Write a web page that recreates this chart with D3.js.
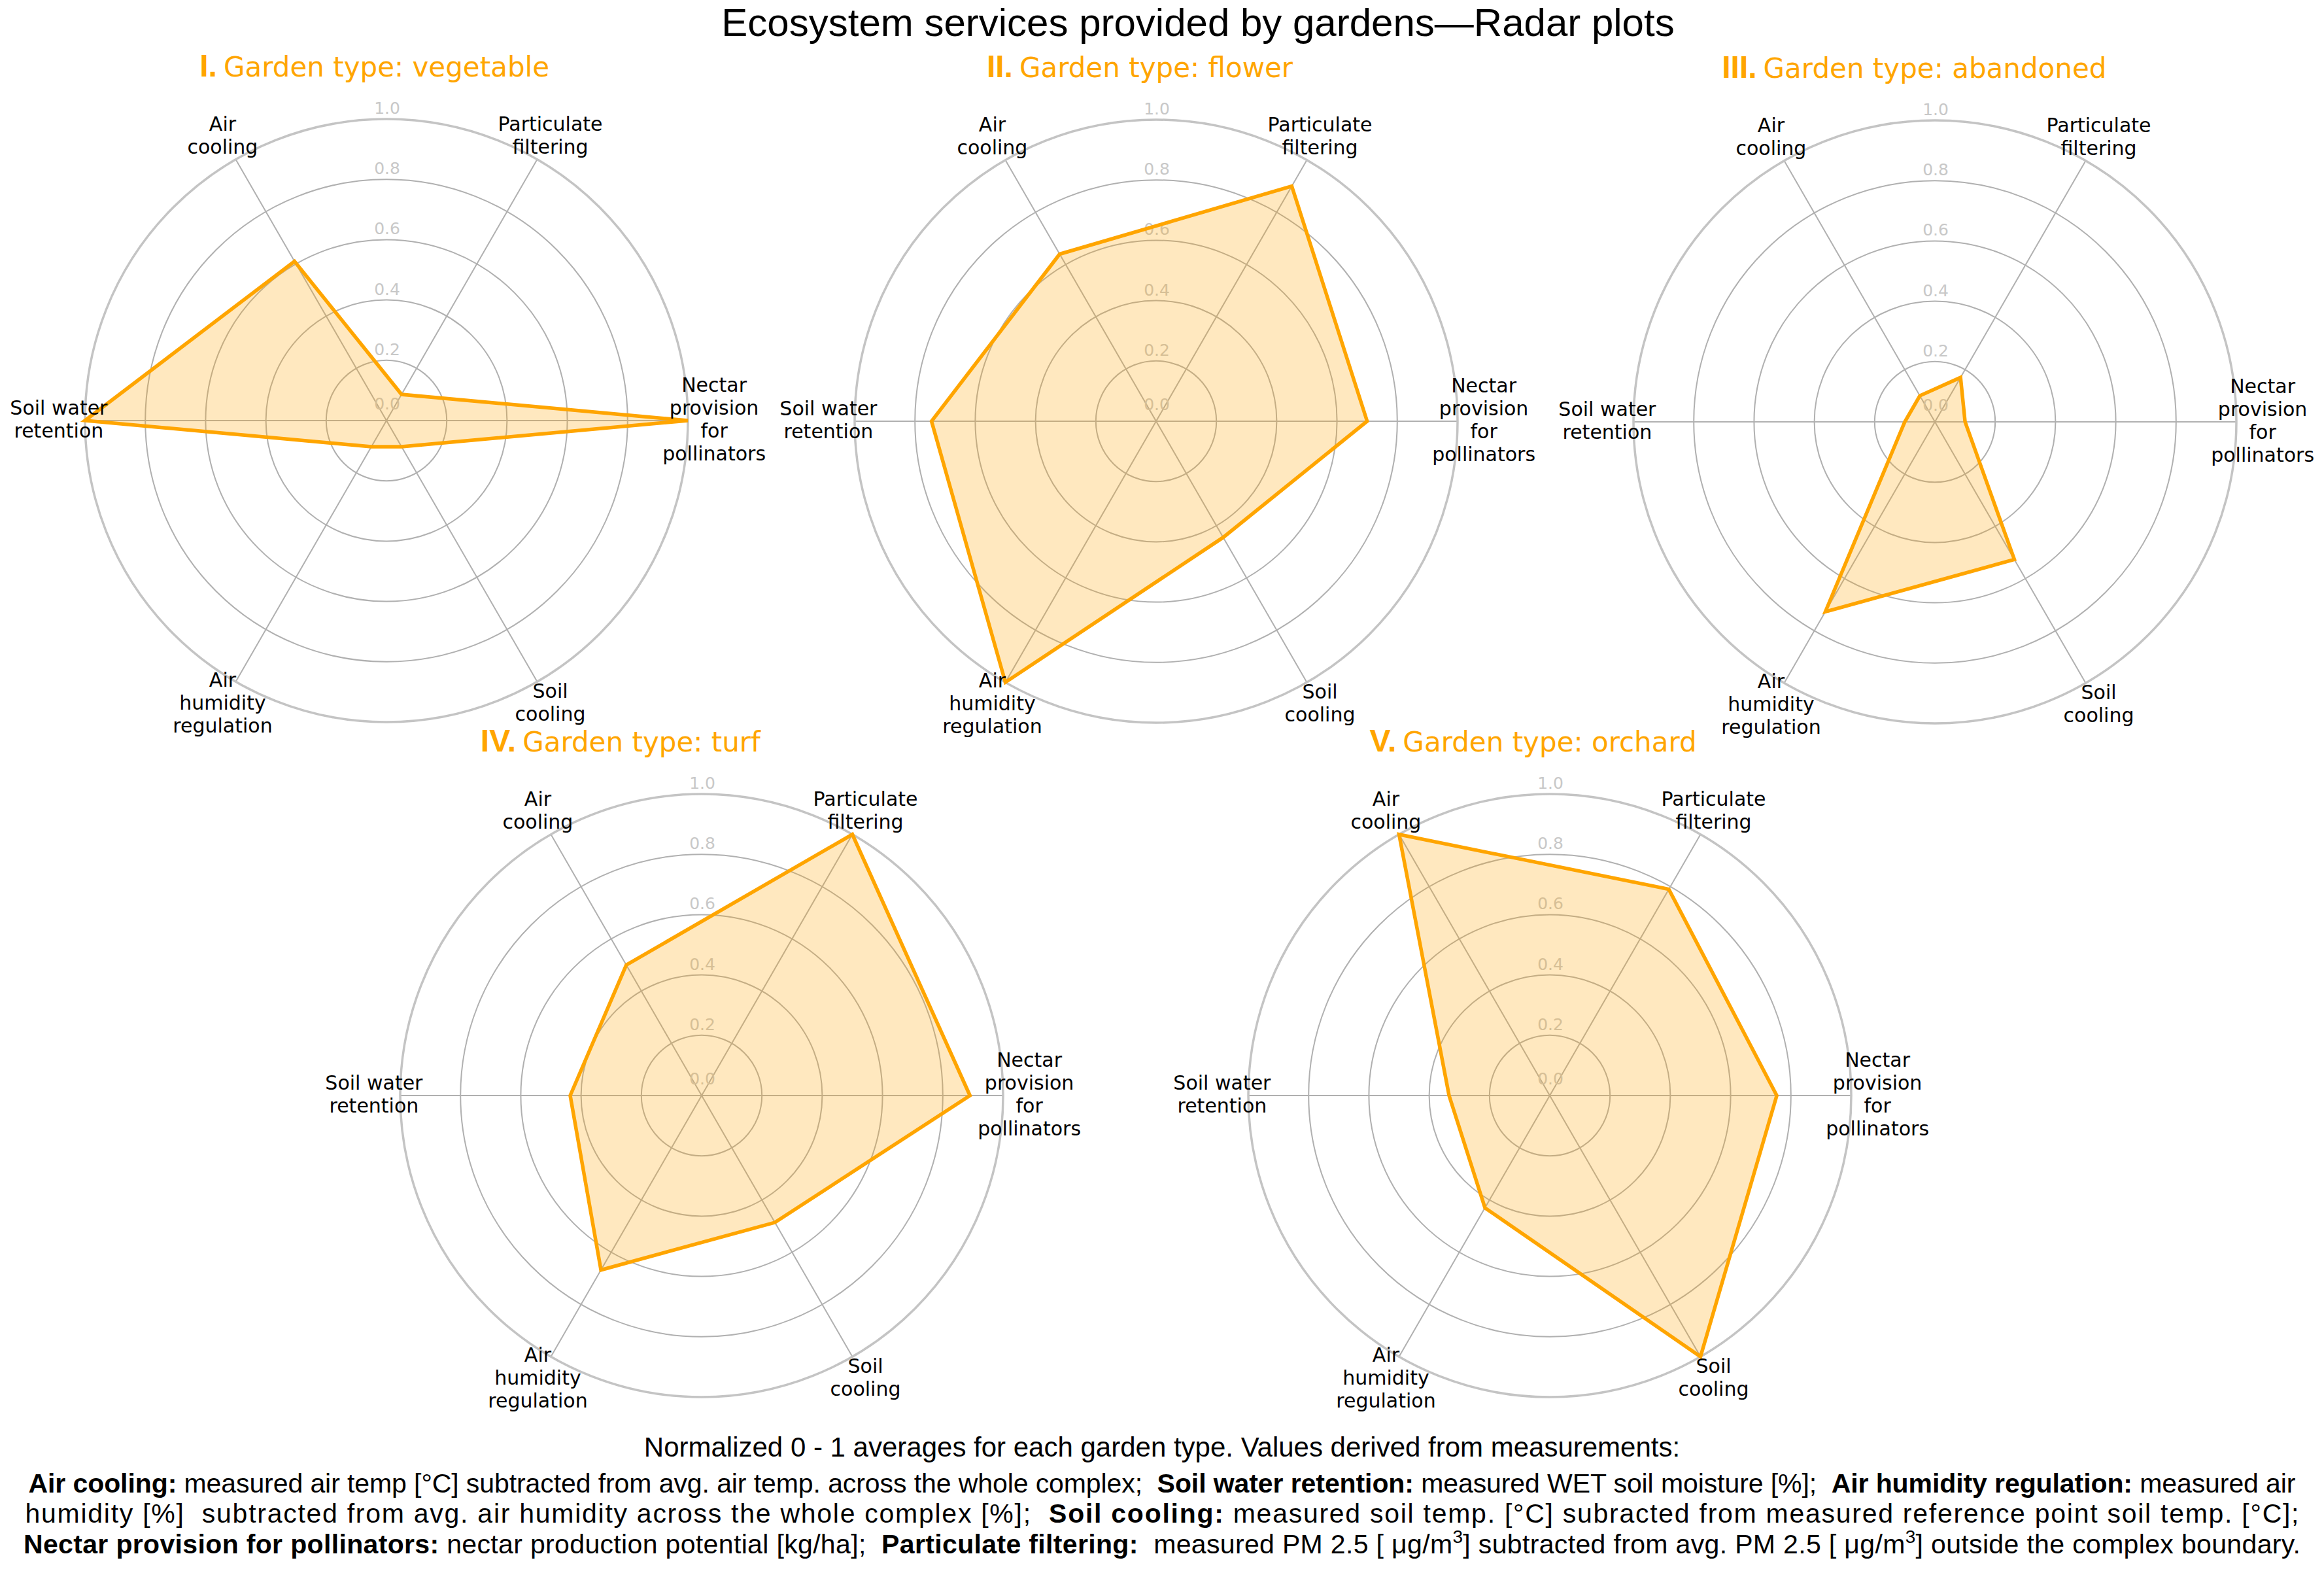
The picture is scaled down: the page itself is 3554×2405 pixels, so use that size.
<!DOCTYPE html>
<html>
<head>
<meta charset="utf-8">
<script src="https://cdn.jsdelivr.net/npm/d3@7/dist/d3.min.js"></script>
<style>
  body { margin: 0; background: #fff; }
  text { white-space: pre; }
</style>
</head>
<body>
<div id="chart"></div>
<script>
// services, counter-clockwise starting at the right-hand spoke
let categories = ["Nectar provision for pollinators", "Particulate filtering", "Air cooling",
  "Soil water retention", "Air humidity regulation", "Soil cooling"];
let axisLabels = [
  ["Nectar", "provision", "for", "pollinators"],
  ["Particulate", "filtering"],
  ["Air", "cooling"],
  ["Soil water", "retention"],
  ["Air", "humidity", "regulation"],
  ["Soil", "cooling"]
];
let gardenTypes = ["vegetable", "flower", "abandoned", "turf", "orchard"];
let numerals = ["I.", "II.", "III.", "IV.", "V."];

// normalized 0 - 1 averages, same order as categories
let vegetable = [1.00, 0.10, 0.61, 1.00, 0.10, 0.10];
let flower    = [0.70, 0.90, 0.64, 0.745, 1.00, 0.445];
let abandoned = [0.10, 0.17, 0.10, 0.10, 0.727, 0.527];
let turf      = [0.89, 1.00, 0.50, 0.436, 0.668, 0.486];
let orchard   = [0.753, 0.79, 1.00, 0.334, 0.43, 1.00];
let series = [vegetable, flower, abandoned, turf, orchard];

let radialTicks = [0.0, 0.2, 0.4, 0.6, 0.8, 1.0];

// [bold, text, superscript]
let footLines = [
  [[true, "Air cooling:"], [false, " measured air temp [°C] subtracted from avg. air temp. across the whole complex;  "],
   [true, "Soil water retention:"], [false, " measured WET soil moisture [%];  "],
   [true, "Air humidity regulation:"], [false, " measured air"]],
  [[false, "humidity [%]  subtracted from avg. air humidity across the whole complex [%];  "],
   [true, "Soil cooling:"], [false, " measured soil temp. [°C] subracted from measured reference point soil temp. [°C];"]],
  [[true, "Nectar provision for pollinators:"], [false, " nectar production potential [kg/ha];  "],
   [true, "Particulate filtering:"], [false, "  measured PM 2.5 [ μg/m"], [false, "3", true],
   [false, "] subtracted from avg. PM 2.5 [ μg/m"], [false, "3", true],
   [false, "] outside the complex boundary."]]
];

let width = 3554, height = 2405;
let orange = "#ffa500";
// panel layout (centres of the polar axes)
let panels = [
  {cx: 591, cy: 643}, {cx: 1768, cy: 644}, {cx: 2959, cy: 645},
  {cx: 1073, cy: 1675}, {cx: 2370, cy: 1675}
];
let titleShift = [0, 0, 0, -92, 0];
let radius = 461;

let svg = d3.select("#chart").append("svg")
  .attr("width", width)
  .attr("height", height)
  .style("background", "#fff");

svg.append("text")
  .attr("x", 1832).attr("y", 55)
  .attr("text-anchor", "middle")
  .style("font-family", "'Liberation Sans', Arial, sans-serif")
  .style("font-size", "60px")
  .attr("fill", "#000")
  .text("Ecosystem services provided by gardens—Radar plots");

let r = d3.scaleLinear().domain([0, 1]).range([0, radius]);
// index -> radial angle (0 = up, clockwise), spokes counter-clockwise from the right
let angle = d3.scaleLinear().domain([0, categories.length]).range([Math.PI / 2, Math.PI / 2 - 2 * Math.PI]);

let buildRadar = function(values, idx) {
  let p = panels[idx];
  let g = svg.append("g")
    .attr("transform", `translate(${p.cx}, ${p.cy})`);

  // rings
  g.selectAll("circle.grid")
    .data(radialTicks.filter(d => d > 0 && d < 1))
    .join("circle")
    .attr("r", d => r(d))
    .attr("fill", "none")
    .attr("stroke", "#b0b0b0")
    .attr("stroke-width", 2);

  // spokes
  g.selectAll("line.spoke")
    .data(categories)
    .join("line")
    .attr("x1", 0).attr("y1", 0)
    .attr("x2", (d, i) => r(1) * Math.sin(angle(i)))
    .attr("y2", (d, i) => -r(1) * Math.cos(angle(i)))
    .attr("stroke", "#b0b0b0")
    .attr("stroke-width", 2);

  // outer frame
  g.append("circle")
    .attr("r", r(1))
    .attr("fill", "none")
    .attr("stroke", "#c4c4c4")
    .attr("stroke-width", 3.5);

  // radial tick labels
  g.selectAll("text.rtick")
    .data(radialTicks)
    .join("text")
    .attr("x", 1)
    .attr("y", d => -r(d) - (d === 0 ? 17 : 8))
    .attr("text-anchor", "middle")
    .style("font-family", "'DejaVu Sans', sans-serif")
    .style("font-size", "25px")
    .attr("fill", "#c8c8c8")
    .text(d => d.toFixed(1));

  let radar = d3.lineRadial()
    .angle((d, i) => angle(i))
    .radius(d => r(d))
    .curve(d3.curveLinearClosed);

  g.append("path")
    .attr("d", radar(values))
    .attr("fill", orange)
    .attr("fill-opacity", 0.25)
    .attr("stroke", orange)
    .attr("stroke-width", 5.5)
    .attr("stroke-linejoin", "miter");

  // category labels
  let lineH = 35;
  axisLabels.forEach(function(lines, i) {
    let lx = r(1.087) * Math.sin(angle(i));
    let ly = -r(1.087) * Math.cos(angle(i));
    let t = g.append("text")
      .attr("text-anchor", "middle")
      .style("font-family", "'DejaVu Sans', sans-serif")
      .style("font-size", "30px")
      .attr("fill", "#000");
    lines.forEach(function(line, k) {
      t.append("tspan")
        .attr("x", lx)
        .attr("y", ly - (lines.length - 1) * lineH / 2 + k * lineH + 8)
        .text(line);
    });
  });

  // panel title: bold numeral + centred text
  let tx = titleShift[idx];
  let ty = -526;
  let title = g.append("text")
    .attr("x", tx).attr("y", ty)
    .attr("text-anchor", "middle")
    .style("font-family", "'DejaVu Sans', sans-serif")
    .style("font-size", "42px")
    .attr("fill", orange)
    .text("Garden type: " + gardenTypes[idx]);
  let tw = title.node().getComputedTextLength();
  g.append("text")
    .attr("x", tx - tw / 2 - 10).attr("y", ty)
    .attr("text-anchor", "end")
    .style("font-family", "'Liberation Sans', Arial, sans-serif")
    .style("font-weight", "bold")
    .style("font-size", "48px")
    .attr("fill", orange)
    .text(numerals[idx]);
};

series.forEach(buildRadar);

// footnote
svg.append("text")
  .attr("x", 1777).attr("y", 2227)
  .attr("text-anchor", "middle")
  .style("font-family", "'Liberation Sans', Arial, sans-serif")
  .style("font-size", "42px")
  .attr("fill", "#000")
  .text("Normalized 0 - 1 averages for each garden type. Values derived from measurements:");

let footY = [2282, 2328, 2375];
let footWidth = [3467, 3477, 3482];
footLines.forEach(function(parts, i) {
  let t = svg.append("text")
    .attr("x", 1777).attr("y", footY[i])
    .attr("text-anchor", "middle")
    .attr("textLength", footWidth[i])
    .attr("lengthAdjust", "spacing")
    .style("font-family", "'Liberation Sans', Arial, sans-serif")
    .style("font-size", "41px")
    .attr("fill", "#000");
  let raised = false;
  parts.forEach(function(part) {
    let s = t.append("tspan")
      .style("font-weight", part[0] ? "bold" : "normal")
      .text(part[1]);
    if (part[2]) {
      s.attr("dy", -16).style("font-size", "28px");
      raised = true;
    } else if (raised) {
      s.attr("dy", 16);
      raised = false;
    }
  });
});
</script>
</body>
</html>
